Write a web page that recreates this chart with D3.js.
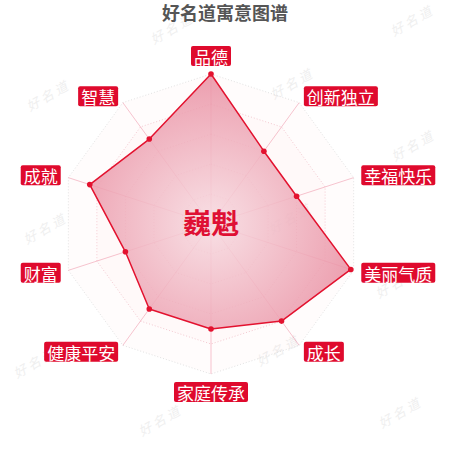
<!DOCTYPE html>
<html>
<head>
<meta charset="utf-8">
<script src="https://cdn.jsdelivr.net/npm/d3@7/dist/d3.min.js"></script>
<style>
  html, body { margin: 0; padding: 0; background: #fff; }
  svg { display: block; font-family: "Noto Sans CJK SC", "Noto Sans", sans-serif; }
</style>
</head>
<body>
<div class="chart"></div>
<script>
// Chart data
const title = '好名道寓意图谱'
const centerName = '巍魁'
const indicators = ['品德', '创新独立', '幸福快乐', '美丽气质', '成长', '家庭传承', '健康平安', '财富', '成就', '智慧']
const values = [100, 60, 60, 98, 80, 70, 70, 60, 85, 70]
const maxValue = 100
const ringLevels = [0.2, 0.4, 0.6, 0.8, 1]
const watermarks = [[172, 28], [412, 20], [292, 83], [48, 95], [413, 145], [45, 228], [290, 218], [397, 282], [35, 362], [278, 350], [160, 420], [400, 412]]

document.addEventListener('DOMContentLoaded', start)

function start () {
  const width = 450
  const height = 450
  const cx = 211
  const cy = 224
  const radius = 150

  const svg = d3.select('.chart')
    .append('svg')
    .attr('width', width)
    .attr('height', height)

  const r = d3.scaleLinear().domain([0, maxValue]).range([0, radius])
  const angle = d3.scaleLinear().domain([0, indicators.length]).range([0, 2 * Math.PI])
  const pos = (i, dist) => [cx + dist * Math.sin(angle(i)), cy - dist * Math.cos(angle(i))]

  // watermark
  svg.append('g')
    .selectAll('text')
    .data(watermarks)
    .enter().append('text')
    .attr('transform', d => `translate(${d[0]},${d[1]}) rotate(-30)`)
    .attr('text-anchor', 'middle')
    .attr('dominant-baseline', 'central')
    .attr('font-size', 13)
    .attr('font-style', 'italic')
    .attr('fill', '#efefef')
    .attr('letter-spacing', 3)
    .text('好名道')

  const defs = svg.append('defs')
  const grad = defs.append('radialGradient')
    .attr('id', 'areaFill')
    .attr('gradientUnits', 'userSpaceOnUse')
    .attr('cx', cx).attr('cy', cy).attr('r', radius)
  grad.append('stop').attr('offset', '0%').attr('stop-color', '#f7dde3')
  grad.append('stop').attr('offset', '100%').attr('stop-color', '#e98ea1')

  const line = d3.line().curve(d3.curveLinearClosed)
  const ringPoints = lvl => indicators.map((d, i) => pos(i, radius * lvl))

  // split areas
  svg.append('g')
    .selectAll('path')
    .data(ringLevels)
    .enter().append('path')
    .attr('d', d => line(ringPoints(d)))
    .attr('fill', 'rgba(230, 60, 90, 0.015)')
    .attr('stroke', (d, i) => i === ringLevels.length - 1 ? '#e2e2e2' : '#f4ccd4')
    .attr('stroke-width', 1)
    .attr('stroke-dasharray', '1,2')

  // axis lines
  svg.append('g')
    .selectAll('line')
    .data(indicators)
    .enter().append('line')
    .attr('x1', cx).attr('y1', cy)
    .attr('x2', (d, i) => pos(i, radius)[0])
    .attr('y2', (d, i) => pos(i, radius)[1])
    .attr('stroke', 'rgba(230, 90, 120, 0.35)')
    .attr('stroke-width', 1)

  // data area
  const pts = values.map((v, i) => pos(i, r(v)))
  svg.append('path')
    .attr('d', line(pts))
    .attr('fill', 'url(#areaFill)')
    .attr('fill-opacity', 0.85)
    .attr('stroke', '#e3122f')
    .attr('stroke-width', 1.5)
    .attr('stroke-linejoin', 'round')

  svg.append('g')
    .selectAll('circle')
    .data(pts)
    .enter().append('circle')
    .attr('cx', d => d[0])
    .attr('cy', d => d[1])
    .attr('r', 2.8)
    .attr('fill', '#e3122f')

  // indicator labels
  const fontSize = 17
  const labels = svg.append('g')
    .selectAll('g')
    .data(indicators)
    .enter().append('g')
    .attr('transform', (d, i) => {
      const [x, y] = pos(i, radius + 8)
      const s = Math.sin(angle(i))
      const c = Math.cos(angle(i))
      const w = d.length * fontSize + 6
      let bx = x - w / 2
      let by = y - 10
      if (s > 0.01) bx = x
      else if (s < -0.01) bx = x - w
      else if (c > 0) by = y - 20
      else by = y
      return `translate(${bx},${by})`
    })

  labels.append('rect')
    .attr('width', d => d.length * fontSize + 6)
    .attr('height', 20)
    .attr('rx', 2)
    .attr('fill', '#df0a2d')

  labels.append('text')
    .attr('x', d => (d.length * fontSize + 6) / 2)
    .attr('y', 10.5)
    .attr('text-anchor', 'middle')
    .attr('dominant-baseline', 'central')
    .attr('font-size', fontSize)
    .attr('fill', '#fff')
    .text(d => d)

  // center name
  svg.append('text')
    .attr('x', cx)
    .attr('y', cy - 2)
    .attr('text-anchor', 'middle')
    .attr('dominant-baseline', 'central')
    .attr('font-size', 28)
    .attr('font-weight', 'bold')
    .attr('fill', '#df1034')
    .text(centerName)

  // title
  svg.append('text')
    .attr('x', 225)
    .attr('y', 12)
    .attr('text-anchor', 'middle')
    .attr('dominant-baseline', 'central')
    .attr('font-size', 18)
    .attr('font-weight', 'bold')
    .attr('fill', '#555')
    .text(title)
}
</script>
</body>
</html>
